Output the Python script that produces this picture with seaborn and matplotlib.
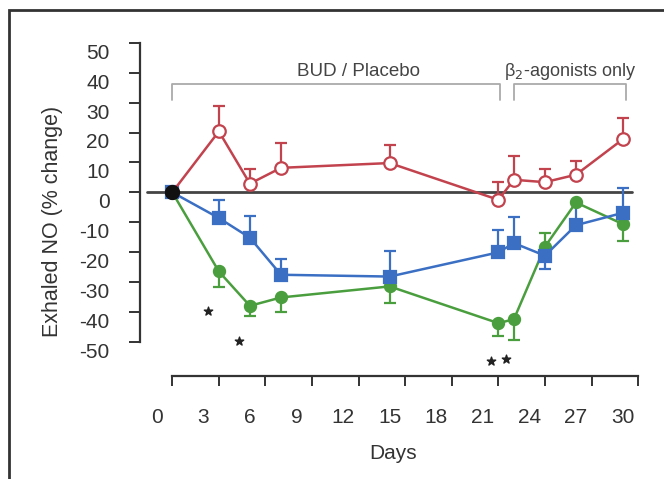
import numpy as np
import pandas as pd
import matplotlib
matplotlib.use("Agg")
import matplotlib.pyplot as plt
import seaborn as sns

# Days of measurement (first point is the common baseline)
days = [1, 4, 6, 8, 15, 22, 23, 25, 27, 30]

# Exhaled NO, % change from baseline
placebo = [0, 20.4, 2.9, 8.2, 9.8, -2.5, 4.2, 3.4, 5.9, 17.7]
bud_low = [0, -8.6, -15.2, -27.6, -28.2, -20.1, -17.0, -21.2, -11.0, -6.9]
bud_high = [0, -26.5, -38.0, -35.2, -31.5, -43.8, -42.5, -18.2, -3.4, -10.6]

# one-sided SEM bars (positive = drawn up, negative = drawn down)
placebo_err = [0, 8.6, 4.9, 8.3, 6.2, 5.9, 8.1, 4.5, 4.7, 7.2]
bud_low_err = [0, 5.9, 7.4, 5.3, 8.4, 7.6, 8.7, -4.5, 7.4, 8.4]
bud_high_err = [0, -5.2, -3.3, -5.0, -5.4, -4.2, -7.1, 4.6, 0, -5.6]

# significance stars (day, value)
star_days = [3.3, 5.3, 21.5, 22.5]
star_vals = [-39.9, -49.9, -56.6, -55.8]

x_labels = [0, 3, 6, 9, 12, 15, 18, 21, 24, 27, 30]
y_ticks = [50, 40, 30, 20, 10, 0, -10, -20, -30, -40, -50]

red = "#c2434e"
blue = "#3a6fc4"
green = "#4a9e3e"

sns.set_theme(style="white")
plt.rcParams["font.family"] = ["Liberation Sans", "DejaVu Sans"]

fig = plt.figure(figsize=(6.64, 4.79), dpi=100)
ax = fig.add_axes([0.2108, 0.215, 0.7619, 0.7015])

df = pd.DataFrame({
    "Day": days * 3,
    "NO": placebo + bud_low + bud_high,
    "Group": ["Placebo"] * 10 + ["BUD low"] * 10 + ["BUD high"] * 10,
})

# zero reference line
ax.plot([-0.6, 30.6], [0, 0], color="#444444", lw=2, zorder=1, clip_on=False)

series = [
    ("BUD high", bud_high, bud_high_err, green, "o", green, 8),
    ("BUD low", bud_low, bud_low_err, blue, "s", blue, 8),
    ("Placebo", placebo, placebo_err, red, "o", "white", 9),
]
for name, vals, errs, col, mk, face, ms in series:
    errs = np.array(errs)
    up = np.where(errs > 0, errs, 0)
    down = np.where(errs < 0, -errs, 0)
    ax.errorbar(days[1:], vals[1:], yerr=[down[1:], up[1:]], fmt="none",
                ecolor=col, elinewidth=1.6, capsize=4.5, capthick=1.6, zorder=2)
    sub = df[df["Group"] == name]
    sns.lineplot(data=sub, x="Day", y="NO", ax=ax, color=col, lw=1.8,
                 marker=mk, markersize=ms, markerfacecolor=face,
                 markeredgecolor=col, markeredgewidth=1.6, zorder=3,
                 legend=False)

# common baseline point
ax.plot([days[0]], [0], marker="o", color="#111111", markersize=10, zorder=5)

ax.scatter(star_days, star_vals, marker="*", color="#222222", s=40, zorder=4)

# treatment brackets
bc = "#aaaaaa"
ax.plot([1, 1, 22.1, 22.1], [31, 36.2, 36.2, 31], color=bc, lw=1.3)
ax.plot([23, 23, 30.2, 30.2], [31, 36.2, 36.2, 31], color=bc, lw=1.3)
ax.text(13, 40.5, "BUD / Placebo", ha="center", va="center", fontsize=13.5, color="#444444")
ax.text(26.6, 40.5, "β$_2$-agonists only", ha="center", va="center",
        fontsize=13, color="#444444")

ax.set_xlim(-1.08, 31.5)
ax.set_ylim(-61.5, 51)

for s in ["top", "right"]:
    ax.spines[s].set_visible(False)
ax.spines["left"].set_bounds(-50, 50)
ax.spines["bottom"].set_bounds(1, 31)
for s in ["left", "bottom"]:
    ax.spines[s].set_color("#333333")
    ax.spines[s].set_linewidth(1.6)

# tick marks sit one day / a few units off the printed labels, as in the source figure
ax.tick_params(bottom=True, left=True)
ax.set_xticks([v + 1 for v in x_labels])
ax.set_xticklabels([])
ax.set_xticks(x_labels, minor=True)
ax.set_xticklabels([str(v) for v in x_labels], minor=True, fontsize=15, color="#333333")
ax.tick_params(axis="x", which="major", direction="out", length=7, width=1.4, color="#333333")
ax.tick_params(axis="x", which="minor", bottom=True, length=0, pad=23)

ax.set_yticks(y_ticks)
ax.set_yticklabels([])
ax.set_yticks([v - 2.8 for v in y_ticks], minor=True)
ax.set_yticklabels([str(v) for v in y_ticks], minor=True, fontsize=15, color="#333333")
ax.tick_params(axis="y", which="major", direction="out", length=8, width=1.4, color="#333333")
ax.tick_params(axis="y", which="minor", left=True, length=0, pad=22)

ax.set_xlabel("Days", fontsize=15, color="#333333", labelpad=12)
ax.set_ylabel("Exhaled NO (% change)", fontsize=15.5, color="#333333")
ax.yaxis.set_label_coords(-0.152, 0.461)
ax.grid(False)

# outer frame of the figure panel
frame = plt.Rectangle((9 / 664, -0.05), 1.2, 1 - 10 / 479 + 0.05, transform=fig.transFigure,
                      fill=False, edgecolor="#333333", lw=2)
fig.patches.append(frame)

fig.savefig("out.png", dpi=100)
